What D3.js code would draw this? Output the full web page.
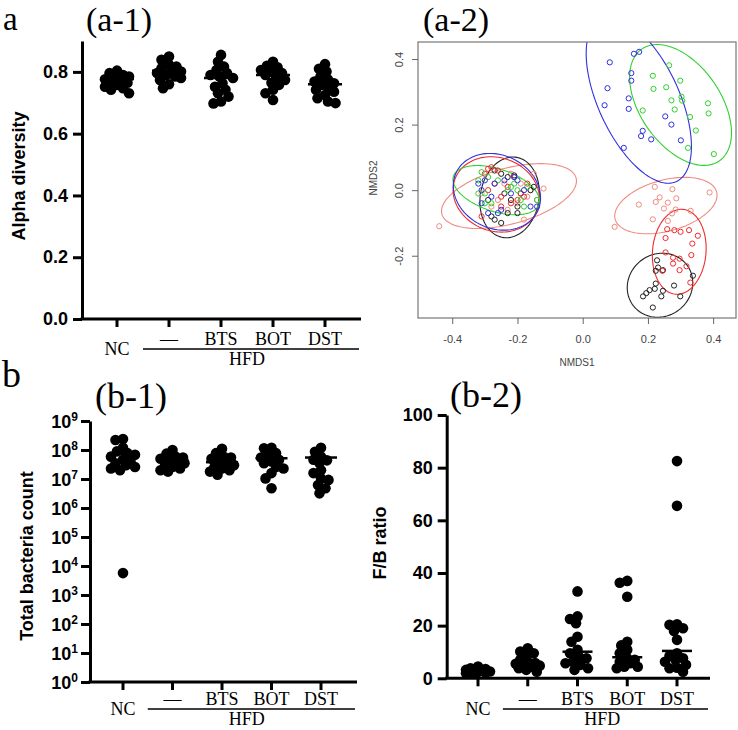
<!DOCTYPE html>
<html>
<head>
<meta charset="utf-8">
<script src="https://cdn.jsdelivr.net/npm/d3@7"></script>
<style>
  body { margin: 0; background: #fff; }
  svg { display: block; }
</style>
</head>
<body>
<div id="fig"></div>
<script>
// ---- categories ----
const groups = ["NC", "—", "BTS", "BOT", "DST"];

// ---- (a-1) alpha diversity ----
const alphaNC  = [0.804, 0.796, 0.79, 0.785, 0.78, 0.776, 0.772, 0.769, 0.765, 0.758, 0.752, 0.747, 0.742, 0.731];
const alphaHFD = [0.85, 0.839, 0.823, 0.817, 0.812, 0.805, 0.801, 0.796, 0.79, 0.785, 0.78, 0.774, 0.76, 0.747];
const alphaBTS = [0.855, 0.833, 0.817, 0.806, 0.796, 0.79, 0.785, 0.78, 0.763, 0.752, 0.742, 0.731, 0.72, 0.704, 0.698];
const alphaBOT = [0.833, 0.82, 0.815, 0.806, 0.801, 0.796, 0.79, 0.785, 0.774, 0.765, 0.758, 0.742, 0.731, 0.709];
const alphaDST = [0.825, 0.81, 0.801, 0.785, 0.775, 0.769, 0.763, 0.758, 0.752, 0.742, 0.736, 0.725, 0.715, 0.704, 0.699];
const alphaMedian = [0.777, 0.804, 0.78, 0.79, 0.76];
const alphaTicks = [0, 0.2, 0.4, 0.6, 0.8];

// ---- (b-1) total bacteria count ----
const countNC  = [2.4e8, 2.2e8, 1.2e8, 9e7, 7.8e7, 6.8e7, 5.9e7, 4.6e7, 4e7, 3.5e7, 3e7, 2.6e7, 2.3e7, 2e7, 5.7e3];
const countHFD = [1e8, 7.5e7, 6e7, 5.5e7, 5e7, 4.6e7, 4e7, 3.5e7, 3e7, 2.6e7, 2.3e7, 2e7, 1.8e7];
const countBTS = [1.1e8, 7.8e7, 6e7, 5.5e7, 5e7, 4e7, 3.5e7, 3e7, 2.6e7, 2.3e7, 2e7, 1.8e7, 1.4e7];
const countBOT = [1.2e8, 1.15e8, 7.8e7, 6.8e7, 5.5e7, 4.6e7, 4e7, 3.5e7, 2.6e7, 2.3e7, 1.6e7, 1.05e7, 4.8e6];
const countDST = [1.2e8, 8.7e7, 5.9e7, 4.6e7, 4.4e7, 3.5e7, 2e7, 1.6e7, 1.05e7, 9.3e6, 6.2e6, 4.8e6, 3.2e6];
const countMedian = [7.3e7, 4.5e7, 3.8e7, 5.2e7, 5.5e7];
const countExponents = [0, 1, 2, 3, 4, 5, 6, 7, 8, 9];

// ---- (b-2) F/B ratio ----
const fbNC  = [4.5, 3.8, 3.5, 3.2, 3, 2.8, 2.6, 2.5, 2.4, 2.2, 2, 1.9, 1.8];
const fbHFD = [11.4, 10.2, 9.5, 8.9, 7, 6.3, 5.8, 5.5, 5.1, 4.8, 4.4, 3.8, 3.2, 2.5];
const fbBTS = [33, 23.5, 22.5, 20.9, 15.8, 13.9, 10.8, 9.5, 8.2, 7.6, 6.3, 5.7, 5.1, 3.8, 3.2];
const fbBOT = [37, 36.3, 31, 13.9, 12.5, 10.8, 9.5, 7.6, 7, 6.3, 5.7, 4.4, 4.4, 3.8];
const fbDST = [82.5, 65.5, 20.5, 20.3, 19, 18, 14.6, 9.5, 8.5, 7.6, 7, 6.3, 5.1, 4, 3.8, 2.5];
const fbMedian = [2.8, 5.5, 10.1, 8.0, 10.4];
const fbTicks = [0, 20, 40, 60, 80, 100];

// ---- (a-2) NMDS points [NMDS1, NMDS2] ----
const nmdsBlack = [
  [-0.27, 0.06], [-0.25, 0.05], [-0.23, 0.04], [-0.21, 0.045], [-0.29, -0.03], [-0.24, -0.01],
  [-0.22, -0.03], [-0.20, -0.05], [-0.19, -0.01], [-0.16, 0.0], [-0.15, 0.01], [-0.27, -0.09],
  [-0.25, -0.10], [-0.23, -0.07], [-0.20, -0.07], [-0.28, -0.08],
  [0.228, -0.214], [0.231, -0.236], [0.246, -0.244], [0.224, -0.246], [0.338, -0.261], [0.224, -0.285],
  [0.280, -0.291], [0.221, -0.301], [0.205, -0.305], [0.246, -0.307], [0.195, -0.314], [0.185, -0.324],
  [0.241, -0.324], [0.299, -0.324], [0.215, -0.358]
];
const nmdsRed = [
  [-0.29, 0.065], [-0.28, 0.07], [-0.30, 0.05], [-0.26, 0.06], [-0.27, 0.02], [-0.25, -0.02],
  [-0.29, 0.0], [-0.23, 0.01], [-0.22, -0.04], [-0.20, -0.03], [-0.18, -0.02], [-0.17, 0.02],
  [-0.25, -0.05], [-0.31, -0.08], [-0.21, 0.04], [-0.19, -0.01],
  [0.259, -0.119], [0.281, -0.122], [0.300, -0.127], [0.326, -0.122], [0.353, -0.139], [0.254, -0.146],
  [0.336, -0.163], [0.333, -0.198], [0.254, -0.190], [0.277, -0.206], [0.297, -0.209], [0.318, -0.232],
  [0.297, -0.244], [0.244, -0.246], [0.330, -0.282], [0.277, -0.224]
];
const nmdsGreen = [
  [-0.31, 0.055], [-0.32, 0.03], [-0.30, -0.01], [-0.29, 0.04], [-0.32, -0.01], [-0.28, -0.04],
  [-0.22, 0.01], [-0.20, 0.0], [-0.21, 0.02], [-0.19, -0.03], [-0.18, -0.05], [-0.14, -0.03],
  [-0.26, 0.03], [-0.23, 0.0], [-0.30, -0.04], [-0.17, 0.01],
  [0.265, 0.381], [0.215, 0.349], [0.299, 0.334], [0.217, 0.309], [0.256, 0.314], [0.303, 0.285],
  [0.272, 0.274], [0.305, 0.273], [0.282, 0.246], [0.184, 0.243], [0.384, 0.265], [0.386, 0.234],
  [0.329, 0.223], [0.347, 0.182], [0.323, 0.129], [0.402, 0.110]
];
const nmdsBlue = [
  [-0.32, 0.02], [-0.31, 0.0], [-0.30, 0.03], [-0.27, 0.02], [-0.28, -0.02], [-0.29, -0.07],
  [-0.25, -0.06], [-0.21, 0.04], [-0.20, 0.03], [-0.22, -0.01], [-0.16, -0.05], [-0.14, -0.05],
  [-0.31, -0.04], [-0.24, 0.03], [-0.26, -0.07], [-0.18, 0.0],
  [0.083, 0.390], [0.157, 0.416], [0.173, 0.422], [0.149, 0.357], [0.149, 0.334], [0.076, 0.311],
  [0.067, 0.259], [0.141, 0.280], [0.141, 0.248], [0.253, 0.225], [0.272, 0.200], [0.184, 0.181],
  [0.179, 0.165], [0.210, 0.155], [0.301, 0.152], [0.126, 0.129]
];
const nmdsSalmon = [
  [-0.44, -0.11], [-0.12, 0.005], [-0.14, -0.03], [-0.16, 0.0], [-0.28, -0.05], [-0.26, -0.03],
  [-0.22, 0.05], [-0.20, -0.04], [-0.17, -0.02], [-0.31, -0.01], [-0.24, 0.02], [-0.19, 0.02],
  [-0.23, -0.06], [-0.15, 0.05], [-0.18, -0.09],
  [0.221, 0.010], [0.275, 0.003], [0.389, -0.007], [0.236, -0.022], [0.224, -0.036], [0.287, -0.025],
  [0.261, -0.038], [0.172, -0.044], [0.249, -0.056], [0.285, -0.059], [0.274, -0.071], [0.215, -0.089],
  [0.261, -0.094], [0.098, -0.112], [0.331, -0.063]
];
// ellipses [cx, cy, semi-major, semi-minor, angle deg]
const ellBlack  = [[-0.224, -0.022, 0.124, 0.090, 80], [0.237, -0.290, 0.103, 0.095, 35]];
const ellRed    = [[-0.265, -0.013, 0.135, 0.112, -20], [0.296, -0.188, 0.130, 0.082, 85]];
const ellGreen  = [[-0.265, 0.000, 0.138, 0.065, -18], [0.300, 0.260, 0.208, 0.123, -55]];
const ellBlue   = [[-0.263, -0.005, 0.138, 0.112, -25], [0.172, 0.275, 0.274, 0.124, -65]];
const ellSalmon = [[-0.226, -0.018, 0.213, 0.085, 15], [0.255, -0.047, 0.161, 0.078, 15]];
const nmdsTicks = [-0.4, -0.2, 0, 0.2, 0.4];

// ---- setup ----
const sans = "'Liberation Sans', Arial, sans-serif";
const serif = "'Liberation Serif', 'Times New Roman', serif";

const svg = d3.select("#fig").append("svg")
  .attr("width", 738)
  .attr("height", 730);

// simple beeswarm: offsets so dots don't pile up
function swarm(values, yScale, minD, maxW) {
  const pts = values.map(v => ({v: v, y: yScale(v), dx: 0})).sort((a, b) => a.y - b.y);
  const placed = [];
  pts.forEach(p => {
    let best = 0, bestD = -1;
    for (let k = 0; k < 200; k++) {
      const off = (k % 2 === 0 ? 1 : -1) * Math.ceil(k / 2) * 1.5;
      if (Math.abs(off) > maxW) break;
      const d = placed.length ? d3.min(placed, q => Math.hypot(q.dx - off, q.y - p.y)) : Infinity;
      if (d >= minD) { best = off; bestD = d; break; }
      if (d > bestD) { bestD = d; best = off; }
    }
    p.dx = best;
    placed.push(p);
  });
  return pts;
}

function styleAxis(g) {
  g.attr("font-family", sans).attr("font-size", 18).attr("font-weight", "bold");
  g.selectAll("path, line").attr("stroke", "#000").attr("stroke-width", 3);
  g.selectAll("text").attr("fill", "#000");
}

// x axis + group labels for the dot panels
function catAxis(xs, x0, x1, y0, labY) {
  svg.append("line")
    .attr("x1", x0 - 1.5).attr("x2", x1).attr("y1", y0).attr("y2", y0)
    .attr("stroke", "#000").attr("stroke-width", 3);
  svg.append("g").selectAll("line")
    .data(groups)
    .enter().append("line")
    .attr("x1", d => xs(d)).attr("x2", d => xs(d))
    .attr("y1", y0).attr("y2", y0 + 8)
    .attr("stroke", "#000").attr("stroke-width", 3);
  const lab = svg.append("g").attr("font-family", serif).attr("font-size", 18).attr("text-anchor", "middle");
  groups.forEach((g, i) => {
    lab.append("text")
      .attr("x", xs(g))
      .attr("y", i === 0 ? labY + 36 : labY + 26)
      .text(g);
  });
  const mid = (xs(groups[0]) + xs(groups[1])) / 2;
  lab.append("line")
    .attr("x1", mid).attr("x2", x1 - 2)
    .attr("y1", labY + 30).attr("y2", labY + 30)
    .attr("stroke", "#000").attr("stroke-width", 1.3);
  lab.append("text")
    .attr("x", (xs(groups[1]) + xs(groups[4])) / 2)
    .attr("y", labY + 46)
    .text("HFD");
}

function dots(sets, medians, xs, ys, medHalf) {
  const g = svg.append("g");
  sets.forEach((vals, i) => {
    const cx = xs(groups[i]);
    g.append("line")
      .attr("x1", cx - medHalf).attr("x2", cx + medHalf)
      .attr("y1", ys(medians[i])).attr("y2", ys(medians[i]))
      .attr("stroke", "#000").attr("stroke-width", 2.5);
    g.selectAll(null)
      .data(swarm(vals, ys, 7, 13))
      .enter().append("circle")
      .attr("cx", d => cx + d.dx)
      .attr("cy", d => d.y)
      .attr("r", 5.3)
      .attr("fill", "#000");
  });
}

function yLabel(text, x, y) {
  svg.append("text")
    .attr("transform", `translate(${x},${y}) rotate(-90)`)
    .attr("text-anchor", "middle")
    .attr("font-family", sans).attr("font-weight", "bold").attr("font-size", 18)
    .text(text);
}

function title(text, x, y, size) {
  svg.append("text")
    .attr("x", x).attr("y", y)
    .attr("font-family", serif).attr("font-size", size)
    .text(text);
}

// ---- panel (a-1) ----
const xA1 = d3.scalePoint().domain(groups).range([117, 325]);
const yA1 = d3.scaleLinear().domain([0, 0.9]).range([319, 41]);

svg.append("g")
  .attr("transform", "translate(82,0)")
  .call(d3.axisLeft(yA1).tickValues(alphaTicks).tickFormat(d => d.toFixed(1))
    .tickSize(9).tickSizeOuter(0).tickPadding(5))
  .call(styleAxis);
catAxis(xA1, 82, 361, 319, 319);
dots([alphaNC, alphaHFD, alphaBTS, alphaBOT, alphaDST], alphaMedian, xA1, yA1, 17);
yLabel("Alpha diversity", 25, 176);

// ---- panel (b-1) ----
const xB1 = d3.scalePoint().domain(groups).range([123, 321]);
const yB1 = d3.scaleLog().domain([1, 1e9]).range([682, 421]);

svg.append("g")
  .attr("transform", "translate(90,0)")
  .call(d3.axisLeft(yB1).tickValues(countExponents.map(e => Math.pow(10, e)))
    .tickFormat("").tickSize(9).tickSizeOuter(0))
  .call(styleAxis);
const powLab = svg.append("g").attr("font-family", sans).attr("font-weight", "bold").attr("text-anchor", "end");
countExponents.forEach(e => {
  const t = powLab.append("text")
    .attr("x", 78)
    .attr("y", yB1(Math.pow(10, e)) + 7)
    .attr("font-size", 18);
  t.append("tspan").text("10");
  t.append("tspan").attr("dy", -7).attr("font-size", 12).text(e);
});
catAxis(xB1, 90, 357, 682, 679);
dots([countNC, countHFD, countBTS, countBOT, countDST], countMedian, xB1, yB1, 16);
yLabel("Total bacteria count", 33, 556);

// ---- panel (b-2) ----
const xB2 = d3.scalePoint().domain(groups).range([478, 677]);
const yB2 = d3.scaleLinear().domain([0, 100]).range([678.3, 415]);

svg.append("g")
  .attr("transform", "translate(446.7,0)")
  .call(d3.axisLeft(yB2).tickValues(fbTicks).tickSize(9).tickSizeOuter(0).tickPadding(5))
  .call(styleAxis);
catAxis(xB2, 446.7, 710, 678.3, 679);
dots([fbNC, fbHFD, fbBTS, fbBOT, fbDST], fbMedian, xB2, yB2, 15);
yLabel("F/B ratio", 386, 543);

// ---- panel (a-2) NMDS ----
const xN = d3.scaleLinear().domain([-0.505, 0.470]).range([418, 736]);
const yN = d3.scaleLinear().domain([-0.39, 0.452]).range([318, 42]);

svg.append("clipPath").attr("id", "nmdsClip")
  .append("rect")
  .attr("x", xN.range()[0]).attr("y", yN.range()[1])
  .attr("width", xN.range()[1] - xN.range()[0])
  .attr("height", yN.range()[0] - yN.range()[1]);

const nm = svg.append("g").attr("clip-path", "url(#nmdsClip)");

const nmdsSets = [
  {pts: nmdsSalmon, ell: ellSalmon, color: "#ef8c80"},
  {pts: nmdsBlack,  ell: ellBlack,  color: "#222222"},
  {pts: nmdsRed,    ell: ellRed,    color: "#ee2b2b"},
  {pts: nmdsGreen,  ell: ellGreen,  color: "#30d030"},
  {pts: nmdsBlue,   ell: ellBlue,   color: "#3030dd"}
];

const ellLine = d3.line().curve(d3.curveLinearClosed);

nmdsSets.forEach(s => {
  s.ell.forEach(e => {
    const th = e[4] * Math.PI / 180;
    const ring = d3.range(0, 2 * Math.PI, Math.PI / 60).map(t => {
      const ex = e[0] + e[2] * Math.cos(t) * Math.cos(th) - e[3] * Math.sin(t) * Math.sin(th);
      const ey = e[1] + e[2] * Math.cos(t) * Math.sin(th) + e[3] * Math.sin(t) * Math.cos(th);
      return [xN(ex), yN(ey)];
    });
    nm.append("path")
      .attr("d", ellLine(ring))
      .attr("fill", "none")
      .attr("stroke", s.color)
      .attr("stroke-width", 1.1);
  });
});

nmdsSets.forEach(s => {
  nm.append("g").selectAll("circle")
    .data(s.pts)
    .enter().append("circle")
    .attr("cx", d => xN(d[0]))
    .attr("cy", d => yN(d[1]))
    .attr("r", 2.6)
    .attr("fill", "none")
    .attr("stroke", s.color)
    .attr("stroke-width", 1);
});

svg.append("rect")
  .attr("x", xN.range()[0]).attr("y", yN.range()[1])
  .attr("width", xN.range()[1] - xN.range()[0])
  .attr("height", yN.range()[0] - yN.range()[1])
  .attr("fill", "none").attr("stroke", "#777").attr("stroke-width", 1.2);

function nmAxisStyle(g) {
  g.attr("font-family", sans).attr("font-size", 11);
  g.select(".domain").remove();
  g.selectAll("line").attr("stroke", "#666");
  g.selectAll("text").attr("fill", "#444");
}

svg.append("g")
  .attr("transform", `translate(0,${yN.range()[0]})`)
  .call(d3.axisBottom(xN).tickValues(nmdsTicks).tickFormat(d => d.toFixed(1)).tickSize(6).tickPadding(11))
  .call(nmAxisStyle);

svg.append("g")
  .attr("transform", `translate(${xN.range()[0]},0)`)
  .call(d3.axisLeft(yN).tickValues(nmdsTicks.filter(d => d > -0.3)).tickFormat(d => d.toFixed(1)).tickSize(6))
  .call(nmAxisStyle)
  .call(g => g.selectAll("text")
    .attr("transform", "rotate(-90)")
    .attr("x", 0).attr("y", -15).attr("dy", 0)
    .attr("text-anchor", "middle"));

svg.append("text")
  .attr("x", 577).attr("y", 366)
  .attr("text-anchor", "middle")
  .attr("font-family", sans).attr("font-size", 10).attr("fill", "#444")
  .text("NMDS1");
svg.append("text")
  .attr("transform", "translate(377,178) rotate(-90)")
  .attr("text-anchor", "middle")
  .attr("font-family", sans).attr("font-size", 10).attr("fill", "#444")
  .text("NMDS2");

// ---- panel titles ----
title("a", 3, 30, 33);
title("(a-1)", 86, 31, 34);
title("(a-2)", 423, 31, 34);
title("b", 2, 387, 38);
title("(b-1)", 95, 408, 36);
title("(b-2)", 450, 407, 36);
</script>
</body>
</html>
